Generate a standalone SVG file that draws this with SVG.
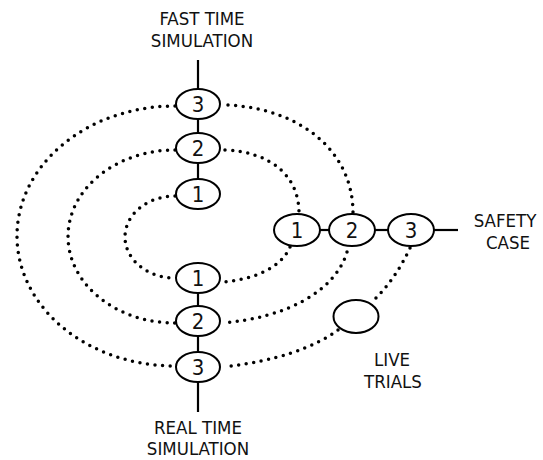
<svg xmlns="http://www.w3.org/2000/svg" width="543" height="460" viewBox="0 0 543 460">
<style>
.node ellipse{fill:#fff;stroke:#000;stroke-width:2}
.lbl{font-family:"DejaVu Sans Condensed","DejaVu Sans",sans-serif;font-stretch:condensed;font-size:18.5px;fill:#111;text-anchor:middle}
.num{font-family:"DejaVu Sans Condensed","DejaVu Sans",sans-serif;font-stretch:condensed;font-size:22px;fill:#111;text-anchor:middle}
.solid{stroke:#000;stroke-width:2.2;fill:none}
.dot{stroke:#000;stroke-width:3.5;fill:none;stroke-linecap:round;stroke-dasharray:0 7.6}
</style>
<rect width="543" height="460" fill="#fff"/>
<g id="connectors">
<line class="solid" x1="198" y1="60" x2="198" y2="89"/>
<line class="solid" x1="198" y1="119" x2="198" y2="133"/>
<line class="solid" x1="198" y1="163" x2="198" y2="179"/>
<line class="solid" x1="198" y1="293" x2="198" y2="306"/>
<line class="solid" x1="198" y1="336" x2="198" y2="352"/>
<line class="solid" x1="198" y1="382" x2="198" y2="412"/>
<line class="solid" x1="320" y1="230" x2="329" y2="230"/>
<line class="solid" x1="375" y1="230" x2="388" y2="230"/>
<line class="solid" x1="434" y1="230" x2="458" y2="230"/>
<path class="dot" d="M175,106 A158,130 0 0 0 175,366"/>
<path class="dot" d="M175,150 A107,86.5 0 0 0 175,323"/>
<path class="dot" d="M175,196 A50,41 0 0 0 175,278"/>
<path class="dot" d="M228,105 C302,109 353,152 353,213"/>
<path class="dot" d="M225,150 C272,152 299,177 299,213"/>
<path class="dot" d="M290,247 C280,270 250,280 222,282"/>
<path class="dot" d="M347,252 C335,292 285,318 222,323"/>
<path class="dot" d="M410,248 Q395,280 373,301"/>
<path class="dot" d="M338,330 Q300,358 224,367"/>
</g>
<g id="fast-time-label"><text class="lbl" x="202" y="25">FAST TIME</text><text class="lbl" x="202" y="47">SIMULATION</text></g>
<g id="real-time-label"><text class="lbl" x="198" y="434">REAL TIME</text><text class="lbl" x="198" y="455">SIMULATION</text></g>
<g id="safety-case-label"><text class="lbl" x="505" y="227">SAFETY</text><text class="lbl" x="508" y="249">CASE</text></g>
<g id="live-trials-label"><text class="lbl" x="392" y="366">LIVE</text><text class="lbl" x="393" y="388">TRIALS</text></g>
<g id="fast3" class="node"><ellipse cx="198" cy="104" rx="22" ry="15"/><text class="num" x="198" y="112">3</text></g>
<g id="fast2" class="node"><ellipse cx="198" cy="148" rx="22" ry="15"/><text class="num" x="198" y="156">2</text></g>
<g id="fast1" class="node"><ellipse cx="198" cy="194" rx="22" ry="15"/><text class="num" x="198" y="202">1</text></g>
<g id="real1" class="node"><ellipse cx="198" cy="278" rx="22" ry="15"/><text class="num" x="198" y="286">1</text></g>
<g id="real2" class="node"><ellipse cx="198" cy="321" rx="22" ry="15"/><text class="num" x="198" y="329">2</text></g>
<g id="real3" class="node"><ellipse cx="198" cy="367" rx="22" ry="15"/><text class="num" x="198" y="375">3</text></g>
<g id="safety1" class="node"><ellipse cx="297" cy="230" rx="23" ry="16"/><text class="num" x="297" y="238">1</text></g>
<g id="safety2" class="node"><ellipse cx="352" cy="230" rx="23" ry="16"/><text class="num" x="352" y="238">2</text></g>
<g id="safety3" class="node"><ellipse cx="411" cy="230" rx="23" ry="16"/><text class="num" x="411" y="238">3</text></g>
<g id="live" class="node"><ellipse cx="356" cy="316.5" rx="22.5" ry="16.5"/></g>
</svg>
